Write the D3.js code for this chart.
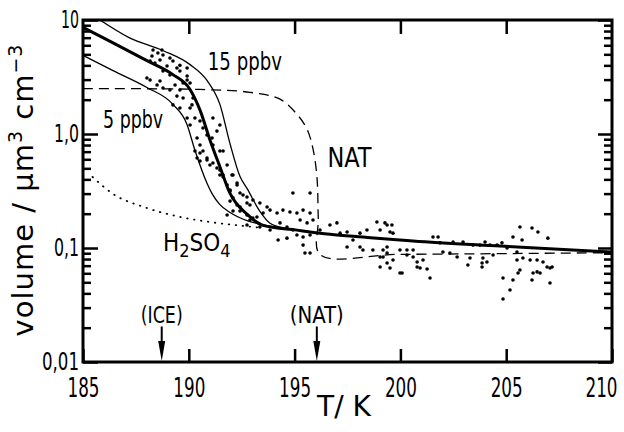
<!DOCTYPE html>
<meta charset="utf-8">
<script src="https://cdn.jsdelivr.net/npm/d3@7"></script>
<style>
body {
  margin: 0;
  background-color: #fff;
}
.axis path {
  display: none;
}
.axis line {
  stroke: #000;
  stroke-width: 2.5px;
}
.axis text, .note {
  font-family: "Liberation Sans Narrow", "DejaVu Sans Condensed", sans-serif;
  fill: #000;
}
.title {
  font-family: "DejaVu Sans", sans-serif;
  fill: #000;
}
.curve {
  fill: none;
  stroke: #000;
}
</style>
<body>
<div id="chart"></div>
<script>
// axis ticks
var tempLabels = [185, 190, 195, 200, 205, 210];
var tempTopTicks = [190, 195, 200, 205];
var volTicks = [10, 1, 0.1, 0.01];
var volLabels = ["10", "1,0", "0,1", "0,01"];

// model curves [T (K), volume (um3/cm3)]
var curve15 = [[185.8, 10], [187.2, 6.97], [188.8, 5.37], [190.06, 4.06], [190.86, 2.95], [191.47, 1.82],
  [191.95, 0.82], [192.42, 0.423], [192.75, 0.333], [193.36, 0.21], [193.84, 0.165], [194.55, 0.149], [195.5, 0.141]];
var curveMid = [[185, 8.6], [186.42, 6.31], [188.02, 4.40], [189.25, 3.32], [190.06, 2.46], [190.53, 1.62],
  [191.0, 0.887], [191.47, 0.516], [191.95, 0.301], [192.75, 0.198], [193.51, 0.158], [195.11, 0.1435],
  [196.67, 0.132], [198.23, 0.1247], [200.6, 0.115], [204.7, 0.104], [210, 0.0923]];
var curve5 = [[185, 4.9], [186.42, 3.60], [188.02, 2.56], [189.25, 1.82], [189.91, 1.22], [190.29, 0.72],
  [190.86, 0.37], [191.1, 0.30], [191.47, 0.24], [191.95, 0.205], [192.75, 0.174], [193.36, 0.162],
  [194.1, 0.153], [195, 0.145]];
var curveNAT = [[185, 2.5], [190.53, 2.46], [192.89, 2.32], [194.31, 2.02], [195.11, 1.49], [195.59, 1.10],
  [195.87, 0.74], [196.06, 0.41], [196.12, 0.18], [196.2, 0.088], [200, 0.088], [210, 0.091]];
var curveH2SO4 = [[185.45, 0.42], [186.4, 0.30], [188.0, 0.225], [189.6, 0.187], [191.1, 0.168],
  [192.75, 0.155], [193.5, 0.15]];

// measured volumes [T (K), volume]
var obs = [
  [188.73, 5.46], [188.54, 5.13], [188.26, 4.83], [188.78, 4.93], [188.64, 4.46], [188.40, 4.20], [189.11, 4.64],
  [189.25, 4.37], [188.97, 3.95], [189.44, 3.79], [189.58, 3.57], [189.92, 3.23], [189.73, 2.80], [189.92, 2.98],
  [190.06, 2.80], [189.58, 2.43], [189.11, 2.43], [188.78, 2.53], [188.50, 2.69], [188.17, 2.98], [188.02, 3.10],
  [188.64, 2.92], [189.35, 2.69], [189.44, 2.15], [189.73, 2.07], [190.20, 2.07], [190.15, 1.80], [189.92, 1.38],
  [190.06, 1.20], [190.29, 1.38], [190.53, 1.30], [190.67, 1.13], [190.39, 0.922], [190.53, 0.801], [190.29, 0.709],
  [190.67, 0.709], [190.86, 0.616], [190.53, 0.580], [191.00, 0.535], [191.14, 0.801], [191.33, 1.06], [191.47, 1.20],
  [191.14, 1.38], [191.10, 0.922], [191.47, 0.709], [191.33, 0.503], [191.62, 0.437], [191.81, 0.357], [191.95, 0.316],
  [192.09, 0.275], [192.28, 0.238], [192.42, 0.211], [192.75, 0.195], [193.03, 0.183], [192.89, 0.238], [192.56, 0.292],
  [192.28, 0.357], [192.04, 0.437], [191.81, 0.535], [191.62, 0.709], [191.95, 0.258], [192.09, 0.211], [191.81, 0.195],
  [192.75, 0.159], [191.47, 0.437], [190.86, 0.980], [190.39, 0.616], [190.06, 1.69], [189.58, 1.69], [189.25, 1.80],
  [188.31, 5.46], [188.17, 4.37], [189.58, 4.00], [189.92, 3.79], [189.11, 3.29], [188.78, 3.57],
  [190.53, 0.681], [190.86, 0.591], [191.14, 0.557], [191.47, 0.483], [191.62, 0.420], [192.09, 0.437], [192.28, 0.372],
  [191.95, 0.323], [192.42, 0.304], [192.75, 0.280], [193.03, 0.264], [193.36, 0.248], [193.70, 0.229], [193.84, 0.215],
  [193.51, 0.203], [193.22, 0.187], [194.17, 0.203], [194.45, 0.215], [194.78, 0.207], [195.11, 0.203], [195.40, 0.215],
  [195.73, 0.203], [194.92, 0.304], [195.73, 0.304], [195.26, 0.176], [195.59, 0.166], [195.87, 0.176], [194.31, 0.166],
  [194.64, 0.153], [194.92, 0.144], [194.22, 0.1175], [194.64, 0.122], [195.11, 0.130], [195.40, 0.125], [195.73, 0.130],
  [195.40, 0.106], [195.49, 0.0904], [195.73, 0.0904], [196.20, 0.144], [196.67, 0.159], [197.00, 0.166], [197.15, 0.135],
  [197.48, 0.138], [197.48, 0.102], [197.76, 0.1175], [198.09, 0.135], [198.42, 0.144], [198.89, 0.169], [199.04, 0.144],
  [199.37, 0.159], [199.51, 0.138], [198.09, 0.102], [198.23, 0.0960], [198.70, 0.0960], [199.04, 0.0834], [199.18, 0.0960],
  [199.37, 0.0904], [199.04, 0.0681], [199.37, 0.0738], [199.65, 0.0785], [199.98, 0.0603], [200.31, 0.0960], [200.60, 0.0834],
  [200.79, 0.0681], [192.75, 0.248], [192.42, 0.229], [192.89, 0.176], [193.36, 0.153], [193.84, 0.144],
  [199.27, 0.166], [199.60, 0.159], [199.65, 0.135], [199.37, 0.102], [199.18, 0.0834], [199.51, 0.0668], [200.08, 0.0603],
  [199.98, 0.0960], [200.31, 0.0868], [200.60, 0.0960], [200.79, 0.0754], [200.93, 0.0668], [201.26, 0.0654], [201.40, 0.0546],
  [201.07, 0.0785], [201.54, 0.125], [201.78, 0.125], [201.87, 0.111], [202.01, 0.0922], [202.34, 0.0904], [202.49, 0.113],
  [202.68, 0.0834], [202.96, 0.113], [203.19, 0.0710], [203.43, 0.106], [203.76, 0.106], [203.90, 0.0817], [204.00, 0.113],
  [204.23, 0.106], [204.38, 0.0868], [204.57, 0.106], [204.80, 0.111], [205.04, 0.100], [205.32, 0.125], [205.51, 0.0922],
  [205.65, 0.153], [205.75, 0.1175], [206.22, 0.150], [206.50, 0.138], [206.97, 0.122], [205.51, 0.0785], [205.79, 0.0817],
  [206.13, 0.0785], [206.46, 0.0785], [206.74, 0.0754], [206.93, 0.0681], [207.07, 0.0668], [205.65, 0.0641], [205.56, 0.0603],
  [205.32, 0.0524], [205.18, 0.0428], [204.85, 0.0546], [204.85, 0.0357], [206.27, 0.0603], [206.46, 0.0617], [206.60, 0.0603],
  [206.22, 0.0524], [207.07, 0.0493], [207.17, 0.0681], [203.86, 0.0738], [204.09, 0.0754], [203.86, 0.0681], [203.29, 0.0817]
];

// arrows marking the ice and NAT frost points
var frostT = [188.72, 196.05];
var frostLabels = ["(ICE)", "(NAT)"];

var margin = {top: 20, right: 12, bottom: 70, left: 83},
    width = 624 - margin.left - margin.right,
    height = 432 - margin.top - margin.bottom;

var svg = d3.select("#chart").append("svg")
    .attr("width", 624)
    .attr("height", 432);

var g = svg.append("g")
    .attr("transform", "translate(" + margin.left + "," + margin.top + ")");

var x = d3.scaleLinear().domain([185, 210]).range([0, width]);
var y = d3.scaleLog().domain([0.01, 10]).range([height, 0]);

var minor = y.ticks().filter(function(d) { return volTicks.indexOf(d) < 0; });

// squeeze a label to a given width, the original lettering is condensed
function squeeze(sel, w) {
  sel.attr("textLength", w).attr("lengthAdjust", "spacingAndGlyphs");
}

// axes, ticks pointing inwards
g.append("g")
    .attr("class", "axis")
    .attr("transform", "translate(0," + height + ")")
    .call(d3.axisBottom(x).tickValues(tempLabels).tickSize(-13).tickPadding(16).tickFormat(d3.format("d")))
    .selectAll("text")
    .style("font-size", "27px")
    .attr("textLength", 32).attr("lengthAdjust", "spacingAndGlyphs")
    .filter(function(d) { return d === 210; })
    .attr("text-anchor", "end")
    .attr("dx", 5);

g.append("g")
    .attr("class", "axis")
    .call(d3.axisTop(x).tickValues(tempTopTicks).tickSize(-14).tickFormat(""));

g.append("g")
    .attr("class", "axis")
    .call(d3.axisLeft(y).tickValues(volTicks).tickSize(-15).tickPadding(4)
      .tickFormat(function(d, i) { return volLabels[i]; }))
    .selectAll("text")
    .style("font-size", "24px")
    .attr("textLength", function(d, i) { return [18, 25, 25, 37][i]; })
    .attr("lengthAdjust", "spacingAndGlyphs");

g.append("g")
    .attr("class", "axis")
    .call(d3.axisLeft(y).tickValues(minor).tickSize(-8).tickFormat(""));

g.append("g")
    .attr("class", "axis")
    .attr("transform", "translate(" + width + ",0)")
    .call(d3.axisRight(y).tickValues(volTicks).tickSize(-14).tickFormat(""));

g.append("g")
    .attr("class", "axis")
    .attr("transform", "translate(" + width + ",0)")
    .call(d3.axisRight(y).tickValues(minor).tickSize(-8).tickFormat(""));

g.append("rect")
    .attr("width", width)
    .attr("height", height)
    .attr("fill", "none")
    .attr("stroke", "#000")
    .attr("stroke-width", 3);

var line = d3.line()
    .x(function(d) { return x(d[0]); })
    .y(function(d) { return y(d[1]); })
    .curve(d3.curveMonotoneX);

var plot = g.append("g");

plot.append("path").datum(curveNAT)
    .attr("class", "curve")
    .attr("d", line.curve(d3.curveCatmullRom.alpha(0.5)))
    .attr("stroke-width", 1.3)
    .attr("stroke-dasharray", "10,6");
line.curve(d3.curveMonotoneX);

plot.append("path").datum(curveH2SO4)
    .attr("class", "curve")
    .attr("d", line)
    .attr("stroke-width", 1.8)
    .attr("stroke-linecap", "round")
    .attr("stroke-dasharray", "0.5,6.5");

[curve15, curve5].forEach(function(c) {
  plot.append("path").datum(c)
      .attr("class", "curve")
      .attr("d", line)
      .attr("stroke-width", 1.3);
});

plot.append("path").datum(curveMid)
    .attr("class", "curve")
    .attr("d", line)
    .attr("stroke-width", 3);

plot.selectAll(".dot")
    .data(obs)
    .enter().append("circle")
    .attr("class", "dot")
    .attr("cx", function(d) { return x(d[0]); })
    .attr("cy", function(d) { return y(d[1]); })
    .attr("r", 1.8)
    .attr("fill", "#000");

// curve labels
g.append("text").attr("class", "note")
    .attr("x", x(190.9)).attr("y", y(3.64))
    .style("font-size", "24px").text("15 ppbv")
    .call(squeeze, 74);
g.append("text").attr("class", "note")
    .attr("x", x(185.95)).attr("y", y(1.13))
    .style("font-size", "24px").text("5 ppbv")
    .call(squeeze, 60);
g.append("text").attr("class", "note")
    .attr("x", x(196.55)).attr("y", y(0.513))
    .style("font-size", "27px").text("NAT")
    .call(squeeze, 44);

var h2so4 = g.append("text").attr("class", "note")
    .attr("x", x(188.78)).attr("y", y(0.094))
    .style("font-size", "24px");
h2so4.append("tspan").text("H");
h2so4.append("tspan").attr("dy", 6).style("font-size", "18px").text("2");
h2so4.append("tspan").attr("dy", -6).text("SO");
h2so4.append("tspan").attr("dy", 6).style("font-size", "18px").text("4");

// frost point arrows
frostT.forEach(function(t, i) {
  var xa = x(t), y1 = y(0.01), y0 = y(0.0205);
  g.append("line")
      .attr("x1", xa).attr("x2", xa)
      .attr("y1", y0).attr("y2", y1 - 16)
      .attr("stroke", "#000").attr("stroke-width", 2);
  g.append("path")
      .attr("d", "M" + (xa - 3.5) + "," + (y1 - 21) + "L" + (xa + 3.5) + "," + (y1 - 21) + "L" + xa + "," + (y1 - 1) + "Z")
      .attr("fill", "#000");
  g.append("text").attr("class", "note")
      .attr("x", xa).attr("y", y0 - 3)
      .attr("text-anchor", "middle")
      .style("font-size", "23px")
      .text(frostLabels[i])
      .call(squeeze, [42, 54][i]);
});

// axis titles
svg.append("text").attr("class", "title")
    .attr("x", 344).attr("y", 416)
    .attr("text-anchor", "middle")
    .style("font-size", "28px")
    .text("T/ K");

var yt = svg.append("text").attr("class", "title")
    .attr("transform", "translate(33," + (margin.top + height / 2 - 1) + ") rotate(-90)")
    .attr("text-anchor", "middle")
    .style("font-size", "29px")
    .style("letter-spacing", "1px");
yt.append("tspan").text("volume / μm");
yt.append("tspan").attr("dy", -11).style("font-size", "19px").text("3");
yt.append("tspan").attr("dy", 11).text(" cm");
yt.append("tspan").attr("dy", -11).style("font-size", "19px").text("−3");
</script>
</body>
